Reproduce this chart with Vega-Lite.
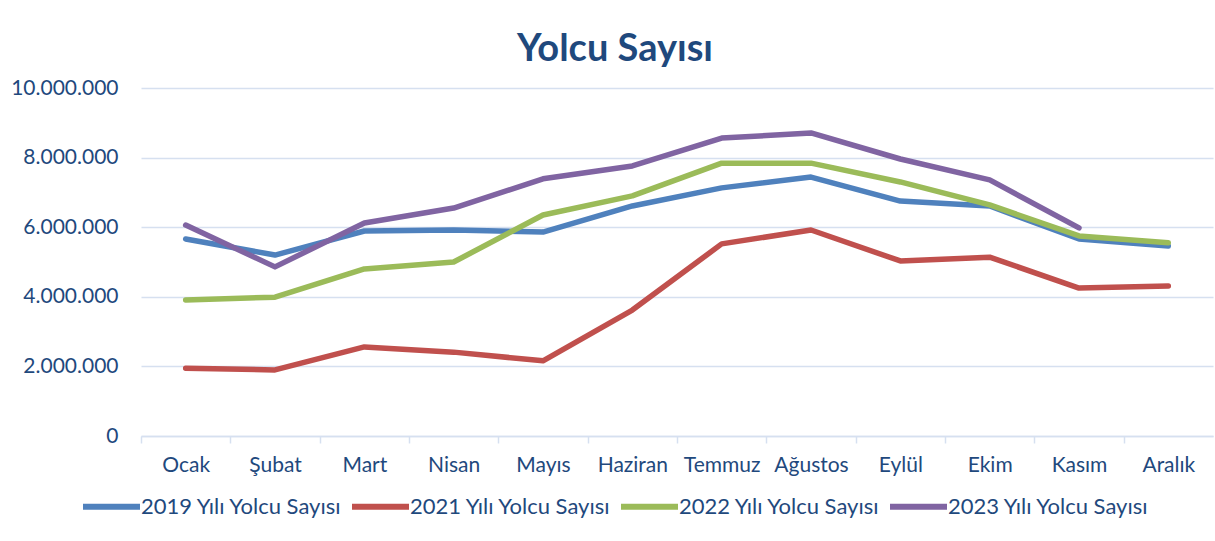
{
  "$schema": "https://vega.github.io/schema/vega-lite/v6.json",
  "width": 1072,
  "height": 348,
  "autosize": {"type": "none"},
  "padding": {"left": 141, "top": 88, "right": 2, "bottom": 105},
  "background": "white",
  "config": {
    "locale": {"number": {"decimal": ",", "thousands": ".", "grouping": [3], "currency": ["", " ₺"]}},
    "font": "Lato",
    "view": {"stroke": null}
  },
  "title": {
    "text": "Yolcu Sayısı",
    "font": "Lato",
    "fontSize": 38,
    "fontWeight": "bold",
    "color": "#1F497D",
    "anchor": "middle",
    "dx": -62,
    "baseline": "alphabetic",
    "offset": -22
  },
  "data": {
    "values": [
      {"ay": "Ocak", "seri": "2019 Yılı Yolcu Sayısı", "yolcu": 5660000},
      {"ay": "Şubat", "seri": "2019 Yılı Yolcu Sayısı", "yolcu": 5200000},
      {"ay": "Mart", "seri": "2019 Yılı Yolcu Sayısı", "yolcu": 5890000},
      {"ay": "Nisan", "seri": "2019 Yılı Yolcu Sayısı", "yolcu": 5920000},
      {"ay": "Mayıs", "seri": "2019 Yılı Yolcu Sayısı", "yolcu": 5860000},
      {"ay": "Haziran", "seri": "2019 Yılı Yolcu Sayısı", "yolcu": 6610000},
      {"ay": "Temmuz", "seri": "2019 Yılı Yolcu Sayısı", "yolcu": 7130000},
      {"ay": "Ağustos", "seri": "2019 Yılı Yolcu Sayısı", "yolcu": 7440000},
      {"ay": "Eylül", "seri": "2019 Yılı Yolcu Sayısı", "yolcu": 6750000},
      {"ay": "Ekim", "seri": "2019 Yılı Yolcu Sayısı", "yolcu": 6610000},
      {"ay": "Kasım", "seri": "2019 Yılı Yolcu Sayısı", "yolcu": 5660000},
      {"ay": "Aralık", "seri": "2019 Yılı Yolcu Sayısı", "yolcu": 5460000},
      {"ay": "Ocak", "seri": "2021 Yılı Yolcu Sayısı", "yolcu": 1950000},
      {"ay": "Şubat", "seri": "2021 Yılı Yolcu Sayısı", "yolcu": 1900000},
      {"ay": "Mart", "seri": "2021 Yılı Yolcu Sayısı", "yolcu": 2560000},
      {"ay": "Nisan", "seri": "2021 Yılı Yolcu Sayısı", "yolcu": 2410000},
      {"ay": "Mayıs", "seri": "2021 Yılı Yolcu Sayısı", "yolcu": 2160000},
      {"ay": "Haziran", "seri": "2021 Yılı Yolcu Sayısı", "yolcu": 3620000},
      {"ay": "Temmuz", "seri": "2021 Yılı Yolcu Sayısı", "yolcu": 5520000},
      {"ay": "Ağustos", "seri": "2021 Yılı Yolcu Sayısı", "yolcu": 5920000},
      {"ay": "Eylül", "seri": "2021 Yılı Yolcu Sayısı", "yolcu": 5030000},
      {"ay": "Ekim", "seri": "2021 Yılı Yolcu Sayısı", "yolcu": 5140000},
      {"ay": "Kasım", "seri": "2021 Yılı Yolcu Sayısı", "yolcu": 4250000},
      {"ay": "Aralık", "seri": "2021 Yılı Yolcu Sayısı", "yolcu": 4310000},
      {"ay": "Ocak", "seri": "2022 Yılı Yolcu Sayısı", "yolcu": 3910000},
      {"ay": "Şubat", "seri": "2022 Yılı Yolcu Sayısı", "yolcu": 3990000},
      {"ay": "Mart", "seri": "2022 Yılı Yolcu Sayısı", "yolcu": 4800000},
      {"ay": "Nisan", "seri": "2022 Yılı Yolcu Sayısı", "yolcu": 5000000},
      {"ay": "Mayıs", "seri": "2022 Yılı Yolcu Sayısı", "yolcu": 6350000},
      {"ay": "Haziran", "seri": "2022 Yılı Yolcu Sayısı", "yolcu": 6900000},
      {"ay": "Temmuz", "seri": "2022 Yılı Yolcu Sayısı", "yolcu": 7840000},
      {"ay": "Ağustos", "seri": "2022 Yılı Yolcu Sayısı", "yolcu": 7840000},
      {"ay": "Eylül", "seri": "2022 Yılı Yolcu Sayısı", "yolcu": 7300000},
      {"ay": "Ekim", "seri": "2022 Yılı Yolcu Sayısı", "yolcu": 6640000},
      {"ay": "Kasım", "seri": "2022 Yılı Yolcu Sayısı", "yolcu": 5750000},
      {"ay": "Aralık", "seri": "2022 Yılı Yolcu Sayısı", "yolcu": 5550000},
      {"ay": "Ocak", "seri": "2023 Yılı Yolcu Sayısı", "yolcu": 6060000},
      {"ay": "Şubat", "seri": "2023 Yılı Yolcu Sayısı", "yolcu": 4860000},
      {"ay": "Mart", "seri": "2023 Yılı Yolcu Sayısı", "yolcu": 6120000},
      {"ay": "Nisan", "seri": "2023 Yılı Yolcu Sayısı", "yolcu": 6550000},
      {"ay": "Mayıs", "seri": "2023 Yılı Yolcu Sayısı", "yolcu": 7390000},
      {"ay": "Haziran", "seri": "2023 Yılı Yolcu Sayısı", "yolcu": 7760000},
      {"ay": "Temmuz", "seri": "2023 Yılı Yolcu Sayısı", "yolcu": 8560000},
      {"ay": "Ağustos", "seri": "2023 Yılı Yolcu Sayısı", "yolcu": 8710000},
      {"ay": "Eylül", "seri": "2023 Yılı Yolcu Sayısı", "yolcu": 7960000},
      {"ay": "Ekim", "seri": "2023 Yılı Yolcu Sayısı", "yolcu": 7360000},
      {"ay": "Kasım", "seri": "2023 Yılı Yolcu Sayısı", "yolcu": 5980000}
    ]
  },
  "mark": {"type": "line", "strokeWidth": 5.5, "strokeCap": "round", "strokeJoin": "round"},
  "encoding": {
    "x": {
      "field": "ay",
      "type": "ordinal",
      "sort": ["Ocak", "Şubat", "Mart", "Nisan", "Mayıs", "Haziran", "Temmuz", "Ağustos", "Eylül", "Ekim", "Kasım", "Aralık"],
      "scale": {"type": "point", "padding": 0.5},
      "axis": {
        "title": null,
        "labelAngle": 0,
        "labelFont": "Lato",
        "labelFontSize": 21,
        "labelColor": "#1F497D",
        "labelPadding": 11,
        "labelOffset": 44.67,
        "domainColor": "#D6E0F0",
        "domainWidth": 1.5,
        "tickColor": "#D6E0F0",
        "tickWidth": 1.5,
        "tickSize": 7,
        "tickOffset": -44.67,
        "grid": false
      }
    },
    "y": {
      "field": "yolcu",
      "type": "quantitative",
      "scale": {"domain": [0, 10000000], "nice": false},
      "axis": {
        "title": null,
        "values": [0, 2000000, 4000000, 6000000, 8000000, 10000000],
        "format": ",d",
        "labelFont": "Lato",
        "labelFontSize": 21,
        "labelColor": "#1F497D",
        "labelPadding": 23,
        "ticks": false,
        "domain": false,
        "grid": true,
        "gridColor": "#D6E0F0",
        "gridWidth": 1.5
      }
    },
    "color": {
      "field": "seri",
      "type": "nominal",
      "scale": {
        "domain": ["2019 Yılı Yolcu Sayısı", "2021 Yılı Yolcu Sayısı", "2022 Yılı Yolcu Sayısı", "2023 Yılı Yolcu Sayısı"],
        "range": ["#4F81BD", "#C0504D", "#9BBB59", "#8064A2"]
      },
      "legend": {
        "title": null,
        "orient": "none",
        "direction": "horizontal",
        "legendX": -61,
        "legendY": 387,
        "symbolType": "stroke",
        "symbolSize": 3249,
        "symbolStrokeWidth": 6,
        "labelFont": "Lato",
        "labelFontSize": 22,
        "labelColor": "#1F497D",
        "labelOffset": -2,
        "columnPadding": -3,
        "labelLimit": 400
      }
    }
  }
}
